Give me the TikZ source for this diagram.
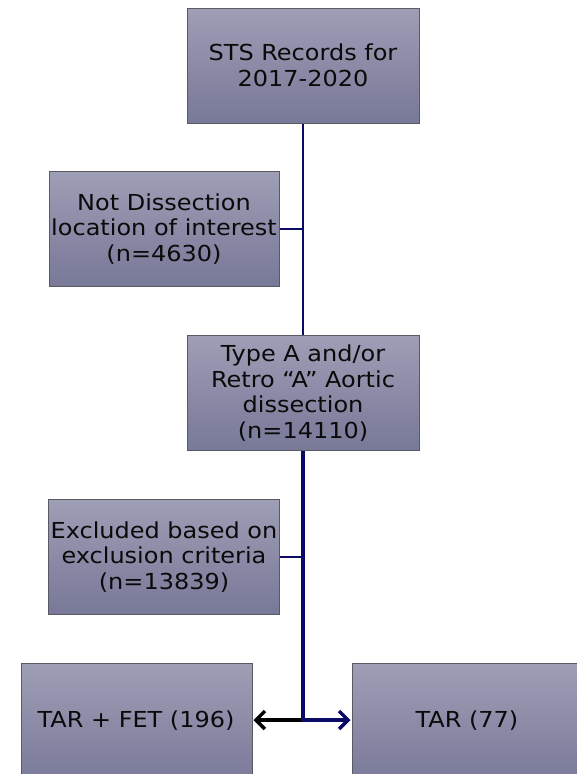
\documentclass[tikz,border=0pt]{standalone}
\usepackage{fontspec}
\setmainfont[FakeStretch=1.09]{DejaVu Sans}
\usetikzlibrary{arrows.meta}
\definecolor{boxtop}{RGB}{158,158,182}
\definecolor{boxbot}{RGB}{120,120,152}
\definecolor{boxline}{RGB}{90,90,100}
\definecolor{navyline}{RGB}{10,10,100}
\definecolor{txt}{RGB}{10,10,10}
\begin{document}
\begin{tikzpicture}[x=1pt,y=1pt,
  box/.style={draw=boxline,line width=1pt,top color=boxtop,bottom color=boxbot,
    minimum width=232pt,minimum height=115pt,align=center,inner sep=2pt,
    text=txt,font=\fontsize{22}{25.5}\selectfont},
  labeltxt/.style={text=txt,font=\fontsize{22}{25.5}\selectfont},
  stub/.style={draw=navyline,line width=2.2pt},
  conn/.style={draw=navyline,line width=2.6pt},
  connthick/.style={draw=navyline,line width=4pt},
  tip/.style={-{Straight Barb[length=9pt,width=18pt,line width=3.5pt]}}
]
\useasboundingbox (0,0) rectangle (577,-774);
\clip (0,0) rectangle (577,-774);
\node[box] (sts) at (303,-65.5) {STS Records for\\2017-2020};
\node[box,minimum width=230pt] (notd) at (164,-229) {Not Dissection\\location of interest\\(n=4630)};
\node[box] (typea) at (303,-393) {Type A and/or\\Retro “A” Aortic\\dissection\\(n=14110)};
\node[box,minimum width=230pt] (excl) at (164,-557) {Excluded based on\\exclusion criteria\\(n=13839)};
\node[box,minimum width=231pt,minimum height=124pt] (tarfet) at (136.5,-725) {};
\node[box,minimum width=240pt,minimum height=124pt] (tar) at (472,-725) {};
\node[labeltxt] (tarfettxt) at (136,-721) {TAR + FET (196)};
\node[labeltxt] (tartxt) at (467,-721) {TAR (77)};
\coordinate (split) at (303,-720);
\draw[conn] (sts.south) -- (typea.north);
\draw[stub] (notd.east) -- (notd.east -| sts.south);
\draw[connthick] (typea.south) -- ([yshift=-1.75pt]split);
\draw[stub] (excl.east) -- (excl.east -| typea.south);
\draw[line width=3.5pt,black,tip] (split) -- ([xshift=1pt]split -| tarfet.east);
\draw[line width=3.5pt,navyline,tip] ([xshift=-2pt]split) -- ([xshift=-1pt]split -| tar.west);
\end{tikzpicture}
\end{document}
